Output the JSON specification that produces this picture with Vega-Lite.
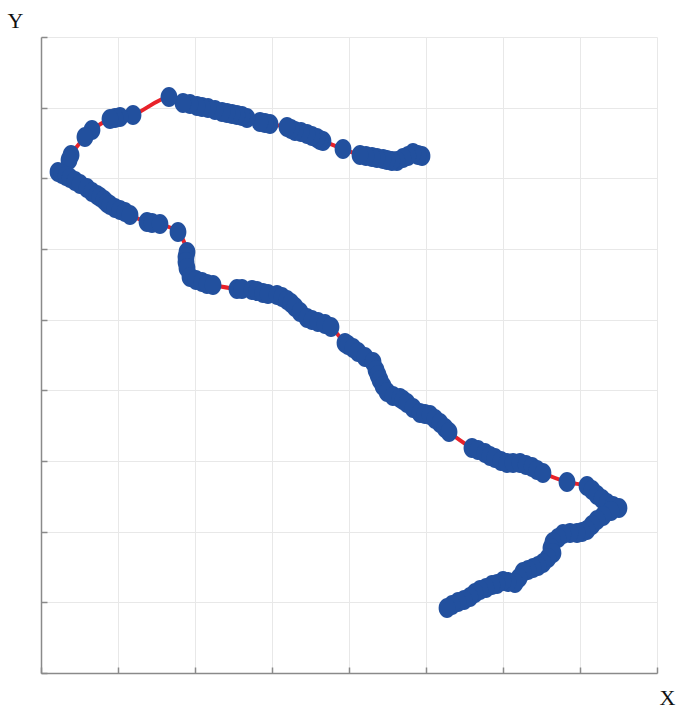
{
  "$schema": "https://vega.github.io/schema/vega-lite/v6.json",
  "width": 616,
  "height": 636,
  "autosize": {"type": "none"},
  "padding": {"left": 41, "top": 37, "right": 22, "bottom": 37},
  "background": "white",
  "config": {
    "view": {"stroke": null},
    "axis": {
      "labels": false,
      "grid": true,
      "gridColor": "#e8e8e8",
      "gridWidth": 1,
      "domainColor": "#8a8a8a",
      "domainWidth": 1.5,
      "tickColor": "#8a8a8a",
      "tickWidth": 1.5,
      "tickSize": -6,
      "titleFont": "Liberation Serif",
      "titleFontSize": 22,
      "titleFontWeight": "normal",
      "titleColor": "#111111",
      "titleAngle": 0,
      "titleAlign": "center",
      "titleBaseline": "middle"
    }
  },
  "data": {
    "values": [
      {"i": 1, "x": 4.948, "y": 7.316},
      {"i": 2, "x": 4.896, "y": 7.330},
      {"i": 3, "x": 4.831, "y": 7.358},
      {"i": 4, "x": 4.766, "y": 7.316},
      {"i": 5, "x": 4.701, "y": 7.287},
      {"i": 6, "x": 4.623, "y": 7.245},
      {"i": 7, "x": 4.558, "y": 7.245},
      {"i": 8, "x": 4.494, "y": 7.259},
      {"i": 9, "x": 4.442, "y": 7.273},
      {"i": 10, "x": 4.364, "y": 7.287},
      {"i": 11, "x": 4.299, "y": 7.302},
      {"i": 12, "x": 4.221, "y": 7.316},
      {"i": 13, "x": 4.143, "y": 7.330},
      {"i": 14, "x": 3.922, "y": 7.415},
      {"i": 15, "x": 3.662, "y": 7.528},
      {"i": 16, "x": 3.623, "y": 7.542},
      {"i": 17, "x": 3.584, "y": 7.570},
      {"i": 18, "x": 3.519, "y": 7.599},
      {"i": 19, "x": 3.455, "y": 7.627},
      {"i": 20, "x": 3.377, "y": 7.655},
      {"i": 21, "x": 3.299, "y": 7.670},
      {"i": 22, "x": 3.247, "y": 7.698},
      {"i": 23, "x": 3.195, "y": 7.726},
      {"i": 24, "x": 2.974, "y": 7.768},
      {"i": 25, "x": 2.909, "y": 7.783},
      {"i": 26, "x": 2.844, "y": 7.797},
      {"i": 27, "x": 2.675, "y": 7.853},
      {"i": 28, "x": 2.610, "y": 7.882},
      {"i": 29, "x": 2.545, "y": 7.896},
      {"i": 30, "x": 2.481, "y": 7.910},
      {"i": 31, "x": 2.416, "y": 7.924},
      {"i": 32, "x": 2.351, "y": 7.938},
      {"i": 33, "x": 2.260, "y": 7.967},
      {"i": 34, "x": 2.169, "y": 7.995},
      {"i": 35, "x": 2.091, "y": 8.009},
      {"i": 36, "x": 2.026, "y": 8.023},
      {"i": 37, "x": 1.935, "y": 8.051},
      {"i": 38, "x": 1.844, "y": 8.066},
      {"i": 39, "x": 1.662, "y": 8.151},
      {"i": 40, "x": 1.195, "y": 7.896},
      {"i": 41, "x": 1.026, "y": 7.868},
      {"i": 42, "x": 0.961, "y": 7.853},
      {"i": 43, "x": 0.896, "y": 7.839},
      {"i": 44, "x": 0.662, "y": 7.684},
      {"i": 45, "x": 0.571, "y": 7.585},
      {"i": 46, "x": 0.390, "y": 7.330},
      {"i": 47, "x": 0.364, "y": 7.259},
      {"i": 48, "x": 0.221, "y": 7.089},
      {"i": 49, "x": 0.273, "y": 7.061},
      {"i": 50, "x": 0.325, "y": 7.033},
      {"i": 51, "x": 0.377, "y": 7.004},
      {"i": 52, "x": 0.442, "y": 6.962},
      {"i": 53, "x": 0.506, "y": 6.919},
      {"i": 54, "x": 0.597, "y": 6.863},
      {"i": 55, "x": 0.662, "y": 6.806},
      {"i": 56, "x": 0.727, "y": 6.764},
      {"i": 57, "x": 0.766, "y": 6.736},
      {"i": 58, "x": 0.818, "y": 6.693},
      {"i": 59, "x": 0.857, "y": 6.650},
      {"i": 60, "x": 0.896, "y": 6.622},
      {"i": 61, "x": 0.961, "y": 6.580},
      {"i": 62, "x": 1.026, "y": 6.552},
      {"i": 63, "x": 1.091, "y": 6.523},
      {"i": 64, "x": 1.156, "y": 6.481},
      {"i": 65, "x": 1.377, "y": 6.382},
      {"i": 66, "x": 1.442, "y": 6.368},
      {"i": 67, "x": 1.545, "y": 6.353},
      {"i": 68, "x": 1.779, "y": 6.240},
      {"i": 69, "x": 1.896, "y": 5.957},
      {"i": 70, "x": 1.883, "y": 5.886},
      {"i": 71, "x": 1.883, "y": 5.816},
      {"i": 72, "x": 1.896, "y": 5.731},
      {"i": 73, "x": 1.935, "y": 5.604},
      {"i": 74, "x": 2.013, "y": 5.561},
      {"i": 75, "x": 2.091, "y": 5.533},
      {"i": 76, "x": 2.156, "y": 5.504},
      {"i": 77, "x": 2.234, "y": 5.490},
      {"i": 78, "x": 2.545, "y": 5.434},
      {"i": 79, "x": 2.610, "y": 5.434},
      {"i": 80, "x": 2.740, "y": 5.420},
      {"i": 81, "x": 2.805, "y": 5.405},
      {"i": 82, "x": 2.883, "y": 5.377},
      {"i": 83, "x": 2.948, "y": 5.363},
      {"i": 84, "x": 3.065, "y": 5.349},
      {"i": 85, "x": 3.130, "y": 5.321},
      {"i": 86, "x": 3.195, "y": 5.278},
      {"i": 87, "x": 3.247, "y": 5.236},
      {"i": 88, "x": 3.299, "y": 5.179},
      {"i": 89, "x": 3.364, "y": 5.108},
      {"i": 90, "x": 3.455, "y": 5.023},
      {"i": 91, "x": 3.519, "y": 4.995},
      {"i": 92, "x": 3.597, "y": 4.967},
      {"i": 93, "x": 3.688, "y": 4.938},
      {"i": 94, "x": 3.766, "y": 4.896},
      {"i": 95, "x": 3.948, "y": 4.670},
      {"i": 96, "x": 3.987, "y": 4.641},
      {"i": 97, "x": 4.052, "y": 4.599},
      {"i": 98, "x": 4.117, "y": 4.542},
      {"i": 99, "x": 4.208, "y": 4.472},
      {"i": 100, "x": 4.312, "y": 4.401},
      {"i": 101, "x": 4.351, "y": 4.288},
      {"i": 102, "x": 4.377, "y": 4.217},
      {"i": 103, "x": 4.403, "y": 4.146},
      {"i": 104, "x": 4.442, "y": 4.061},
      {"i": 105, "x": 4.494, "y": 3.976},
      {"i": 106, "x": 4.571, "y": 3.920},
      {"i": 107, "x": 4.662, "y": 3.891},
      {"i": 108, "x": 4.701, "y": 3.863},
      {"i": 109, "x": 4.753, "y": 3.821},
      {"i": 110, "x": 4.831, "y": 3.750},
      {"i": 111, "x": 4.922, "y": 3.679},
      {"i": 112, "x": 4.987, "y": 3.665},
      {"i": 113, "x": 5.052, "y": 3.651},
      {"i": 114, "x": 5.117, "y": 3.594},
      {"i": 115, "x": 5.182, "y": 3.538},
      {"i": 116, "x": 5.247, "y": 3.467},
      {"i": 117, "x": 5.299, "y": 3.410},
      {"i": 118, "x": 5.597, "y": 3.184},
      {"i": 119, "x": 5.675, "y": 3.156},
      {"i": 120, "x": 5.766, "y": 3.113},
      {"i": 121, "x": 5.831, "y": 3.071},
      {"i": 122, "x": 5.896, "y": 3.042},
      {"i": 123, "x": 5.974, "y": 3.000},
      {"i": 124, "x": 6.052, "y": 2.972},
      {"i": 125, "x": 6.130, "y": 2.972},
      {"i": 126, "x": 6.221, "y": 2.972},
      {"i": 127, "x": 6.299, "y": 2.943},
      {"i": 128, "x": 6.377, "y": 2.915},
      {"i": 129, "x": 6.442, "y": 2.873},
      {"i": 130, "x": 6.519, "y": 2.830},
      {"i": 131, "x": 6.831, "y": 2.703},
      {"i": 132, "x": 7.091, "y": 2.646},
      {"i": 133, "x": 7.156, "y": 2.590},
      {"i": 134, "x": 7.221, "y": 2.519},
      {"i": 135, "x": 7.286, "y": 2.462},
      {"i": 136, "x": 7.351, "y": 2.406},
      {"i": 137, "x": 7.429, "y": 2.363},
      {"i": 138, "x": 7.506, "y": 2.335},
      {"i": 139, "x": 7.403, "y": 2.292},
      {"i": 140, "x": 7.299, "y": 2.222},
      {"i": 141, "x": 7.221, "y": 2.165},
      {"i": 142, "x": 7.156, "y": 2.094},
      {"i": 143, "x": 7.091, "y": 2.024},
      {"i": 144, "x": 7.026, "y": 1.995},
      {"i": 145, "x": 6.961, "y": 1.981},
      {"i": 146, "x": 6.870, "y": 1.981},
      {"i": 147, "x": 6.779, "y": 1.967},
      {"i": 148, "x": 6.714, "y": 1.910},
      {"i": 149, "x": 6.649, "y": 1.854},
      {"i": 150, "x": 6.623, "y": 1.769},
      {"i": 151, "x": 6.649, "y": 1.698},
      {"i": 152, "x": 6.584, "y": 1.627},
      {"i": 153, "x": 6.519, "y": 1.557},
      {"i": 154, "x": 6.455, "y": 1.514},
      {"i": 155, "x": 6.390, "y": 1.486},
      {"i": 156, "x": 6.325, "y": 1.457},
      {"i": 157, "x": 6.260, "y": 1.429},
      {"i": 158, "x": 6.208, "y": 1.344},
      {"i": 159, "x": 6.156, "y": 1.274},
      {"i": 160, "x": 6.065, "y": 1.288},
      {"i": 161, "x": 6.000, "y": 1.302},
      {"i": 162, "x": 5.922, "y": 1.259},
      {"i": 163, "x": 5.857, "y": 1.245},
      {"i": 164, "x": 5.779, "y": 1.203},
      {"i": 165, "x": 5.701, "y": 1.174},
      {"i": 166, "x": 5.636, "y": 1.132},
      {"i": 167, "x": 5.571, "y": 1.075},
      {"i": 168, "x": 5.494, "y": 1.033},
      {"i": 169, "x": 5.416, "y": 1.005},
      {"i": 170, "x": 5.338, "y": 0.962},
      {"i": 171, "x": 5.273, "y": 0.920}
    ]
  },
  "encoding": {
    "x": {
      "field": "x",
      "type": "quantitative",
      "scale": {"domain": [0, 8], "nice": false, "zero": false},
      "axis": {
        "title": "X",
        "values": [0, 1, 2, 3, 4, 5, 6, 7, 8],
        "titleX": 626,
        "titleY": 24
      }
    },
    "y": {
      "field": "y",
      "type": "quantitative",
      "scale": {"domain": [0, 9], "nice": false, "zero": false},
      "axis": {
        "title": "Y",
        "values": [0, 1, 2, 3, 4, 5, 6, 7, 8, 9],
        "titleX": -26,
        "titleY": -17
      }
    }
  },
  "layer": [
    {
      "mark": {"type": "line", "color": "#e8222a", "strokeWidth": 4, "interpolate": "catmull-rom"},
      "encoding": {"order": {"field": "i", "type": "quantitative"}}
    },
    {
      "mark": {
        "type": "point",
        "shape": "M -0.84 0 A 0.84 1 0 1 1 0.84 0 A 0.84 1 0 1 1 -0.84 0 Z",
        "filled": true,
        "color": "#22509e",
        "opacity": 1,
        "size": 400
      }
    }
  ]
}
